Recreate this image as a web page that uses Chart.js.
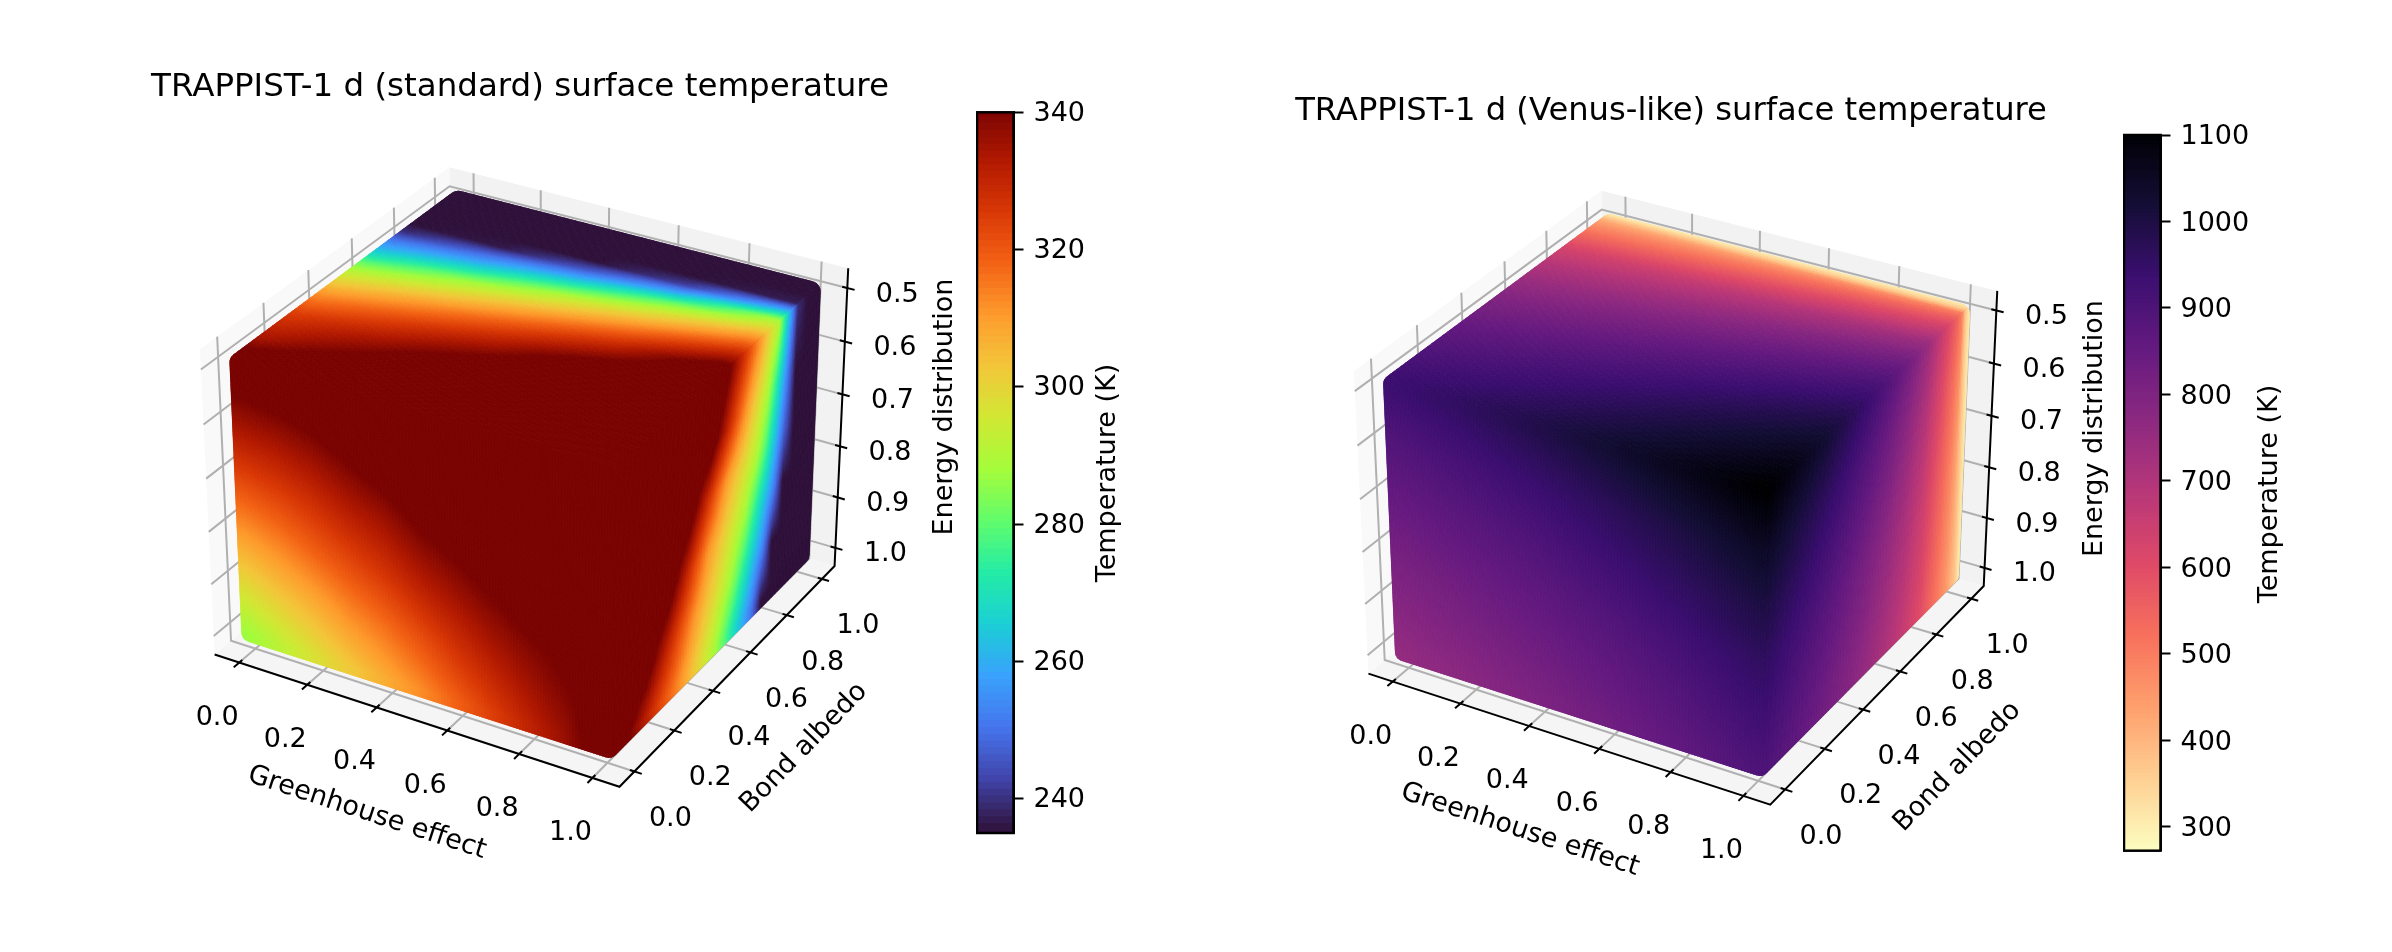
<!DOCTYPE html>
<html><head><meta charset="utf-8">
<style>html,body{margin:0;padding:0;background:#fff;width:2392px;height:952px;overflow:hidden}canvas{position:absolute;display:block}</style>
<script src="https://cdn.jsdelivr.net/npm/chart.js@4"></script>
</head><body>
<canvas id="std3d" width="880" height="860" style="left:80px;top:40px"></canvas>
<canvas id="ven3d" width="880" height="860" style="left:1231px;top:64px"></canvas>
<canvas id="stdBar" width="170" height="800" style="left:976px;top:72px"></canvas>
<canvas id="venBar" width="170" height="800" style="left:2123px;top:95px"></canvas>
<script>
// ---------- axis ticks ----------
const greenhouseTicks=[0,0.2,0.4,0.6,0.8,1];
const albedoTicks=[0,0.2,0.4,0.6,0.8,1];
const energyTicks=[0.5,0.6,0.7,0.8,0.9,1];
const stdBarTicks=[240,260,280,300,320,340];
const venBarTicks=[300,400,500,600,700,800,900,1000,1100];

// ---------- standard case: temperatures (K) read from the three visible faces ----------
const stdFrontZ=[0.5,0.6,0.7,0.8,0.9,1];
const stdFrontX=[0,0.1,0.2,0.3,0.4,0.5,0.6,0.7,0.8,0.9,1];
const stdFront=[
[346,347,349,350,350,350,350,350,350,350,350],
[335,336,338,341.5,345,349,350,350,350,350,349],
[323,325,328,332,335,340,343,346,348,347,347],
[311,314,318,322,326,331,335,339,342,343,346],
[299,303,307,312,316,321,326.5,331.5,336,340,344],
[287,292,297,302,307,312,318,324,330,336,345]];
const stdTopY=[0,0.05,0.1,0.15,0.2,0.25,0.3,0.35,0.4,0.45,0.5,0.55,0.6,0.65,0.7,0.75,0.8,0.85,0.9,0.95,1];
const stdTopX=[0,0.25,0.5,0.75,1];
const stdTop=[
[345,350,350,350,350],[339,350,350,350,350],[333.7,346,350,350,350],[330.4,341,350,350,350],
[327.3,337,350,350,350],[323.7,332.6,344,350,350],[318.2,328,339,350,350],[312.6,322.9,333.5,349,350],
[306.2,316.7,328.1,342,350],[298.8,310.5,322,335.2,350],[291.5,302.7,315,328.3,347.5],[282,294.7,307.4,320.7,338.1],
[270.2,286.1,298.7,312.5,328.8],[259.9,272.6,290,303.3,319],[250.7,260.1,276,293.7,309],[239.7,249,260.5,280.4,298.2],
[235,236,246,260.9,287.5],[235,235,235,242.2,262],[235,235,235,235,236.8],[235,235,235,235,235],[235,235,235,235,235]];
const stdRightZ=[0.5,0.6,0.7,0.8,0.9,1];
const stdRightY=[0,0.05,0.1,0.15,0.2,0.25,0.3,0.35,0.4,0.45,0.5,0.55,0.6,0.65,0.7,0.75,0.8,0.85,0.9,0.95,1];
const stdRight=[
[350,350,350,350,350,350,350,350,350,350,348.7,339,329.4,319.7,310,299.3,288.6,263.4,239,235,235],
[350,350,350,350,350,350,350,350,350,348.3,337.9,327.6,317.2,307.3,298.3,289.3,272.5,253.8,235,235,235],
[350,350,350,350,350,350,350,345.7,336.2,326.6,317,308.4,302.3,296.1,290,278.1,262.5,246.75,235,235,235],
[350,350,350,350,350,347,338.2,329.2,320.1,311,304.8,298.8,292.9,286.4,275,263.6,252.3,235,235,235,235],
[350,350,350,346,338.5,331.1,323.7,316.3,309.2,303.2,297.2,291.2,283.3,272.9,262.5,252.1,235,235,235,235,235],
[348,342.3,336.5,330.8,325,319.2,313.5,307.5,301.3,295,288.8,279.6,269.7,259.9,250,235,235,235,235,235,235]];

// ---------- Venus-like case ----------
const venFrontZ=[0.5,0.6,0.7,0.8,0.9,1];
const venFrontX=[0,0.2,0.4,0.6,0.8,1];
const venFront=[
[930,955,985,1020,1060,1100],
[885,910,935,965,1000,1040],
[850,872,895,925,958,995],
[815,838,860,888,920,955],
[785,807,830,856,888,925],
[755,775,800,828,860,895]];
const venTopY=[0,0.1,0.2,0.3,0.4,0.5,0.6,0.7,0.8,0.9,0.95,0.98,1,1.024];
const venTopX=[0,0.2,0.4,0.6,0.8,1];
const venTop=[
[930,955,985,1020,1060,1100],[906,930,959,993,1032,1071],[880,903,932,965,1003,1041],
[851,874,901,933,970,1007],[818,840,867,898,933,968],[782,803,828,858,891,925],
[739,759,783,811,843,875],[688,707,729,755,784,814],[622,639,659,682,709,736],
[523,537,554,573,596,618],[465,478,492,510,530,550],[420,430,440,455,470,490],[370,370,370,370,370,370],[300,300,300,300,300,300]];
const venRightZ=[0.5,0.6,0.7,0.8,0.9,1];
const venRightY=[0,0.1,0.2,0.3,0.4,0.5,0.6,0.7,0.8,0.9,0.95,0.98,1,1.024];
const venRight=[
[1100,1071,1041,1007,968,925,875,814,736,618,550,490,370,300],
[1040,1013,984,952,915,875,827,770,696,584,520,463,370,300],
[995,969,941,910,876,837,791,736,666,559,498,443,370,300],
[955,930,903,874,840,803,759,707,639,537,478,425,370,300],
[925,901,875,846,814,778,735,685,619,520,463,412,370,300],
[895,872,847,819,788,753,712,662,599,503,448,400,370,300]];

// ---------- colormaps ----------
const turboStops=[[48,18,59],[65,69,171],[70,117,237],[57,162,252],[27,207,212],[36,236,166],[97,252,108],[164,252,59],[209,232,52],[243,198,58],[254,155,45],[243,99,21],[217,56,6],[177,25,1],[122,4,2]];
const magmaStops=[[252,253,191],[254,207,146],[254,159,109],[247,112,92],[222,73,104],[183,55,121],[140,41,129],[100,26,128],[59,15,112],[20,14,54],[0,0,4]];
function ramp(stops,t){t=Math.min(1,Math.max(0,t))*(stops.length-1);const i=Math.min(stops.length-2,Math.floor(t)),f=t-i,a=stops[i],b=stops[i+1];
 return 'rgb('+[0,1,2].map(k=>Math.round(a[k]+(b[k]-a[k])*f)).join(',')+')';}
const stdColor=T=>ramp(turboStops,(T-235)/(340-235));
const venColor=T=>ramp(magmaStops,(T-272)/(1100-272));

// ---------- camera (elevation 30, azimuth -60, distance 10, box aspect 4:4:3) ----------
const xLim=[-0.0729,1.0729],yLim=[-0.0729,1.0729],zBottom=1.0365,zTop=0.4635;
const box=[1.19,1.19,0.893];
const camU=[0.866025,0.5,0],camV=[-0.25,0.433013,0.866025],camW=[0.433013,-0.75,0.5];
const dot=(a,b)=>a[0]*b[0]+a[1]*b[1]+a[2]*b[2];
function proj(x,y,z){
 const q=[((x-xLim[0])/(xLim[1]-xLim[0])-0.5)*box[0],((y-yLim[0])/(yLim[1]-yLim[0])-0.5)*box[1],((zBottom-z)/(zBottom-zTop)-0.5)*box[2]];
 const d=10-dot(camW,q);return {x:dot(camU,q)/d,y:dot(camV,q)/d};}
function fit(pairs){let n=pairs.length,sa=0,sb=0,saa=0,sab=0;pairs.forEach(([a,b])=>{sa+=a;sb+=b;saa+=a*a;sab+=a*b;});
 const s=(n*sab-sa*sb)/(n*saa-sa*sa);return {s,o:(sb-s*sa)/n};}
function look(ax,v){let i=0;if(v<=ax[0])return [0,0];if(v>=ax[ax.length-1])return [ax.length-1,0];
 while(ax[i+1]<v)i++;return [i,(v-ax[i])/(ax[i+1]-ax[i])];}
function sample(table,rows,cols,r,c){const [i,f]=look(rows,r),[j,g]=look(cols,c);
 const i2=Math.min(i+1,rows.length-1),j2=Math.min(j+1,cols.length-1);
 return (table[i][j]*(1-f)+table[i2][j]*f)*(1-g)+(table[i][j2]*(1-f)+table[i2][j2]*f)*g;}

const FONT='"DejaVu Sans"';
// corner pixels of the plot box: [x,y,z,px,py]
const stdCorners=[[xLim[0],yLim[0],zBottom,214,654],[xLim[1],yLim[0],zBottom,620,787],[xLim[1],yLim[1],zBottom,834,567],[xLim[1],yLim[1],zTop,848.6,268],[xLim[0],yLim[0],zTop,200.6,348],[xLim[0],yLim[1],zTop,449,168]];
const venCorners=[[xLim[0],yLim[0],zBottom,1367.8,672.7],[xLim[1],yLim[0],zBottom,1770.8,805],[xLim[1],yLim[1],zBottom,1984,586.7],[xLim[1],yLim[1],zTop,1996.8,290.7],[xLim[0],yLim[0],zTop,1354.5,372],[xLim[0],yLim[1],zTop,1601,191]];

function panel(cfg){
 const el=document.getElementById(cfg.id),L=parseFloat(el.style.left),Tp=parseFloat(el.style.top),W=el.width,H=el.height,areaTop=68;
 const P=cfg.corners.map(c=>[proj(c[0],c[1],c[2]),c[3],c[4]]);
 const fx=fit(P.map(p=>[p[0].x,p[1]])),fy=fit(P.map(p=>[p[0].y,p[2]]));
 const xMin=(L-fx.o)/fx.s,xMax=(L+W-fx.o)/fx.s,yMin=(Tp+H-fy.o)/fy.s,yMax=(Tp+areaTop-fy.o)/fy.s;
 const line=(pts,color,width,order,extra)=>Object.assign({data:pts.map(p=>proj(p[0],p[1],p[2])),showLine:true,pointRadius:0,borderColor:color,borderWidth:width,order,fill:false},extra||{});
 const ds=[];
 const x0=xLim[0],x1=xLim[1],y0=yLim[0],y1=yLim[1];
 const pane=(pts,c)=>ds.push(line(pts,c,0,5,{fill:'shape',backgroundColor:c}));
 pane([[x0,y0,zBottom],[x0,y1,zBottom],[x0,y1,zTop],[x0,y0,zTop],[x0,y0,zBottom]],'#f9f9f9');
 pane([[x0,y1,zBottom],[x1,y1,zBottom],[x1,y1,zTop],[x0,y1,zTop],[x0,y1,zBottom]],'#f2f2f2');
 pane([[x0,y0,zBottom],[x1,y0,zBottom],[x1,y1,zBottom],[x0,y1,zBottom],[x0,y0,zBottom]],'#f5f5f5');
 const G='#b0b0b0';
 greenhouseTicks.forEach(v=>{ds.push(line([[v,y0,zBottom],[v,y1,zBottom],[v,y1,zTop]],G,2,4));});
 albedoTicks.forEach(v=>{ds.push(line([[x1,v,zBottom],[x0,v,zBottom],[x0,v,zTop]],G,2,4));});
 energyTicks.forEach(v=>{ds.push(line([[x0,y0,v],[x0,y1,v],[x1,y1,v]],G,2,4));});
 ds.push(line([[x0,y0,zBottom],[x1,y0,zBottom],[x1,y1,zBottom],[x1,y1,zTop]],'#000',2,1));
 greenhouseTicks.forEach(v=>ds.push(line([[v,y0-0.024,zBottom],[v,y0+0.014,zBottom]],'#000',2,1)));
 albedoTicks.forEach(v=>ds.push(line([[x1+0.02,v,zBottom],[x1-0.012,v,zBottom]],'#000',2,1)));
 energyTicks.forEach(v=>ds.push(line([[x1+0.02,y1,v],[x1-0.014,y1,v]],'#000',2,1)));
 // sampled nodes of each face, values carried with the points
 const nodes=(rows,cols,tab,f)=>{const a=[];rows.forEach((r,i)=>cols.forEach((c,j)=>{const p=f(r,c);a.push({x:p.x,y:p.y,T:tab[i][j]});}));return a;};
 ds.push({label:'front',data:nodes(cfg.frontZ,cfg.frontX,cfg.front,(z,x)=>proj(x,0,z)),pointRadius:0,order:0});
 ds.push({label:'top',data:nodes(cfg.topY,cfg.topX,cfg.top,(y,x)=>proj(x,y,0.5)),pointRadius:0,order:0});
 ds.push({label:'right',data:nodes(cfg.rightZ,cfg.rightY,cfg.right,(z,y)=>proj(1,y,z)),pointRadius:0,order:0});

 const pad=cfg.pad,padZ=cfg.padZ;
 const plugin={id:'cube',afterDatasetsDraw(chart){
  const c=chart.ctx,sx=chart.scales.x,sy=chart.scales.y;
  const px=(x,y,z)=>{const p=proj(x,y,z);return [sx.getPixelForValue(p.x),sy.getPixelForValue(p.y)];};
  const a=-pad,b=1+pad,zt=0.5-padZ,zb=1+padZ;
  const hex=[px(a,a,zt),px(a,b,zt),px(b,b,zt),px(b,b,zb),px(b,a,zb),px(a,a,zb)];
  c.save();c.beginPath();
  const m=[(hex[5][0]+hex[0][0])/2,(hex[5][1]+hex[0][1])/2];c.moveTo(m[0],m[1]);
  for(let i=0;i<6;i++){const n=hex[(i+1)%6];c.arcTo(hex[i][0],hex[i][1],n[0],n[1],cfg.round);}
  c.closePath();c.clip();
  const N=cfg.N;
  const face=(f,val)=>{for(let i=0;i<N;i++)for(let j=0;j<N;j++){
    const u0=i/N,u1=(i+1)/N,v0=j/N,v1=(j+1)/N,col=cfg.color(val((u0+u1)/2,(v0+v1)/2));
    const A=f(u0,v0),B=f(u1,v0),C=f(u1,v1),D=f(u0,v1);
    c.beginPath();c.moveTo(A[0],A[1]);c.lineTo(B[0],B[1]);c.lineTo(C[0],C[1]);c.lineTo(D[0],D[1]);c.closePath();
    c.fillStyle=col;c.strokeStyle=col;c.lineWidth=0.9;c.fill();c.stroke();}};
  const sp=t=>a+(b-a)*t,sz=t=>zt+(zb-zt)*t;
  face((u,v)=>px(sp(u),a,sz(v)),(u,v)=>sample(cfg.front,cfg.frontZ,cfg.frontX,sz(v),sp(u)));
  face((u,v)=>px(sp(u),sp(v),zt),(u,v)=>sample(cfg.top,cfg.topY,cfg.topX,sp(v),sp(u)));
  face((u,v)=>px(b,sp(u),sz(v)),(u,v)=>sample(cfg.right,cfg.rightZ,cfg.rightY,sz(v),sp(u)));
  c.restore();
  // tick labels and axis titles
  c.save();c.fillStyle='#000';c.font='27px '+FONT;c.textAlign='center';c.textBaseline='middle';
  const text=(s,x,y,rot)=>{c.save();c.translate(x,y);c.rotate((rot||0)*Math.PI/180);c.fillText(s,0,0);c.restore();};
  greenhouseTicks.forEach(v=>{const p=px(v,y0,zBottom);text(v.toFixed(1),p[0]-22,p[1]+55);});
  albedoTicks.forEach(v=>{const p=px(x1,v,zBottom);text(v.toFixed(1),p[0]+36,p[1]+47.5);});
  energyTicks.forEach(v=>{const p=px(x1,y1,v);text(v.toFixed(1),p[0]+50,p[1]+6.5);});
  cfg.labels.forEach(l=>text(l[0],l[1]-L,l[2]-Tp,l[3]));
  c.restore();
 }};
 new Chart(el,{type:'scatter',data:{datasets:ds},plugins:[plugin],options:{responsive:false,animation:false,devicePixelRatio:1,events:[],
  layout:{padding:0},
  plugins:{legend:{display:false},tooltip:{enabled:false},title:{display:true,text:cfg.title,color:'#000',font:{family:FONT,size:cfg.titleSize,weight:'normal'},padding:{top:28.5,bottom:0.5}}},
  scales:{x:{type:'linear',display:false,min:xMin,max:xMax},y:{type:'linear',display:false,min:yMin,max:yMax}}}});
}

function colorbar(id,vmin,vmax,step,ticks,color,labelX,labelY,barTop,barH,labelShift){
 const el=document.getElementById(id),H=el.height,W=el.width;
 const ds=[];for(let t=vmin;t<vmax;t+=step){ds.push({data:[[t,Math.min(vmax,t+step*1.4)]],backgroundColor:color(t+step/2),borderWidth:0,grouped:false,barPercentage:1,categoryPercentage:1});}
 const L=parseFloat(el.style.left),Tp=parseFloat(el.style.top);
 new Chart(el,{type:'bar',data:{labels:['T'],datasets:ds},
  plugins:[{id:'frame',afterDatasetsDraw(ch){const a=ch.chartArea,c=ch.ctx;c.save();c.strokeStyle='#000';c.lineWidth=2.5;c.strokeRect(a.left,a.top,a.right-a.left,a.bottom-a.top);
    c.fillStyle='#000';c.font='27px '+FONT;c.textAlign='center';c.textBaseline='middle';c.translate(labelX-L,labelY-Tp);c.rotate(-Math.PI/2);c.fillText('Temperature (K)',0,0);c.restore();}}],
  options:{responsive:false,animation:false,devicePixelRatio:1,events:[],
   layout:{padding:{left:1,top:barTop-Tp,bottom:Tp+H-barTop-barH,right:0}},
   plugins:{legend:{display:false},tooltip:{enabled:false}},
   scales:{x:{display:false},
    y:{position:'right',min:vmin,max:vmax,afterFit(s){s.width=W-37.5;},afterBuildTicks(s){s.ticks=ticks.map(v=>({value:v}));},
     grid:{drawOnChartArea:false,drawTicks:true,tickLength:10,tickColor:'#000',tickWidth:2},border:{color:'#000',width:2},
     ticks:{color:'#000',padding:10,labelOffset:labelShift,font:{family:FONT,size:27},align:'center',autoSkip:false,callback:v=>String(v)}}}}});
}

panel({id:'std3d',title:'TRAPPIST-1 d (standard) surface temperature',titleSize:32.5,corners:stdCorners,color:stdColor,N:130,pad:0.024,padZ:0.015,round:11,
 frontZ:stdFrontZ,frontX:stdFrontX,front:stdFront,topY:stdTopY,topX:stdTopX,top:stdTop,rightZ:stdRightZ,rightY:stdRightY,right:stdRight,
 labels:[['Greenhouse effect',367,813,18.1],['Bond albedo',804,748,-45.8],['Energy distribution',945,407,-90]]});
panel({id:'ven3d',title:'TRAPPIST-1 d (Venus-like) surface temperature',titleSize:32.2,corners:venCorners,color:venColor,N:130,pad:0.024,padZ:0.015,round:11,
 frontZ:venFrontZ,frontX:venFrontX,front:venFront,topY:venTopY,topX:venTopX,top:venTop,rightZ:venRightZ,rightY:venRightY,right:venRight,
 labels:[['Greenhouse effect',1520,830,18.1],['Bond albedo',1957.5,767,-45.8],['Energy distribution',2095,428.6,-90]]});
colorbar('stdBar',235,340,1,stdBarTicks,stdColor,1108,473,112.3,720.7,1.5);
colorbar('venBar',272.6,1100,4,venBarTicks,venColor,2270,494,135,715.7,2);
</script>
</body></html>
